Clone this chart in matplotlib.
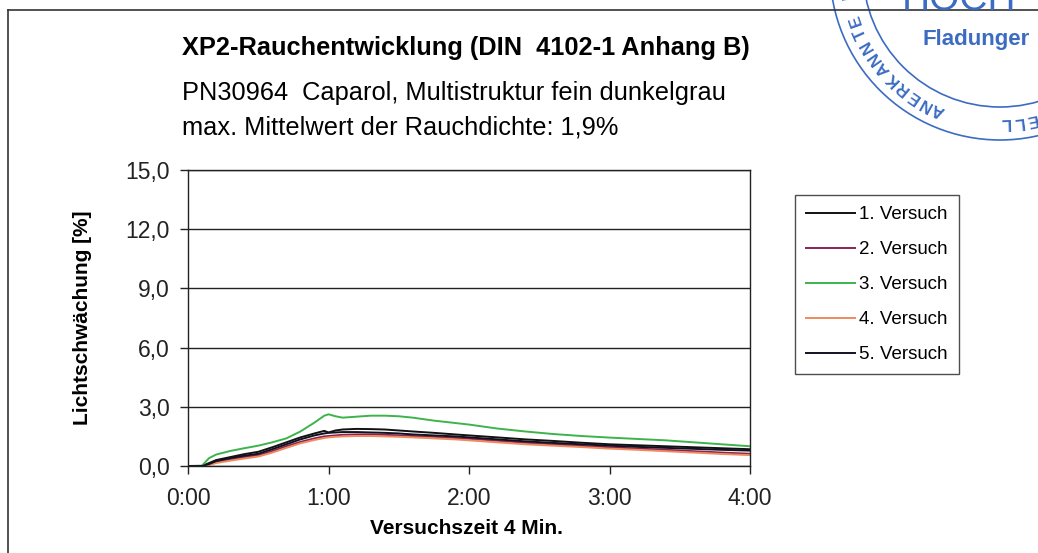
import numpy as np
import matplotlib.pyplot as plt
from matplotlib.lines import Line2D
from matplotlib.patches import Arc

plt.rcParams['font.family'] = ['Liberation Sans', 'DejaVu Sans']

# time in minutes
zeit = [0, 0.1, 0.15, 0.2, 0.3, 0.4, 0.5, 0.6, 0.7, 0.8, 0.9, 0.97, 1.0, 1.05,
        1.1, 1.2, 1.3, 1.4, 1.5, 1.6, 1.75, 1.9, 2.0, 2.2, 2.4, 2.6, 2.8, 3.0,
        3.2, 3.4, 3.6, 3.8, 4.0]

versuch1 = [0, 0, 0.15, 0.3, 0.45, 0.6, 0.72, 0.95, 1.2, 1.45, 1.65, 1.78, 1.7,
            1.8, 1.85, 1.88, 1.87, 1.85, 1.8, 1.75, 1.68, 1.6, 1.55, 1.45, 1.35,
            1.27, 1.18, 1.1, 1.05, 1.0, 0.95, 0.9, 0.85]
versuch2 = [0, 0, 0.08, 0.2, 0.33, 0.45, 0.55, 0.75, 1.0, 1.22, 1.4, 1.5, 1.52,
            1.55, 1.58, 1.6, 1.6, 1.58, 1.55, 1.52, 1.48, 1.42, 1.38, 1.28, 1.18,
            1.1, 1.02, 0.95, 0.88, 0.82, 0.75, 0.68, 0.62]
versuch3 = [0, 0.02, 0.4, 0.58, 0.76, 0.9, 1.03, 1.2, 1.4, 1.75, 2.2, 2.55, 2.62,
            2.52, 2.45, 2.5, 2.55, 2.55, 2.52, 2.45, 2.3, 2.18, 2.1, 1.9, 1.75,
            1.62, 1.52, 1.44, 1.37, 1.3, 1.2, 1.1, 1.0]
versuch4 = [0, 0, 0.05, 0.15, 0.27, 0.38, 0.48, 0.68, 0.92, 1.15, 1.32, 1.42, 1.45,
            1.48, 1.5, 1.52, 1.52, 1.5, 1.48, 1.45, 1.4, 1.35, 1.3, 1.2, 1.1,
            1.03, 0.96, 0.88, 0.82, 0.75, 0.68, 0.61, 0.55]
versuch5 = [0, 0, 0.1, 0.25, 0.4, 0.52, 0.62, 0.85, 1.1, 1.35, 1.55, 1.65, 1.68,
            1.7, 1.72, 1.72, 1.7, 1.68, 1.65, 1.6, 1.55, 1.5, 1.45, 1.35, 1.25,
            1.17, 1.1, 1.03, 0.97, 0.92, 0.87, 0.82, 0.78]

labels = ['1. Versuch', '2. Versuch', '3. Versuch', '4. Versuch', '5. Versuch']
colors = ['#111111', '#8b2252', '#3cb44b', '#ee8a5c', '#111122']
yticks = [0, 3, 6, 9, 12, 15]
xticks = [0, 1, 2, 3, 4]
xticklabels = ['0:00', '1:00', '2:00', '3:00', '4:00']

W, H = 1038, 553
fig = plt.figure(figsize=(W / 100, H / 100), dpi=100)


def fx(px):
    return px / W


def fy(py):
    return 1 - py / H


# outer chart frame (continues beyond the scan)
fig.add_artist(Line2D([fx(8), 1.0], [fy(10), fy(10)], color='#333333', lw=1.2))
fig.add_artist(Line2D([fx(8), fx(8)], [fy(10), 0.0], color='#333333', lw=1.2))

ax = fig.add_axes([fx(188), fy(466), fx(750) - fx(188), fy(170) - fy(466)])
for serie, lab, col in zip([versuch1, versuch2, versuch3, versuch4, versuch5],
                           labels, colors):
    ax.plot(zeit, serie, color=col, lw=1.4, label=lab)

ax.set_xlim(0, 4)
ax.set_ylim(0, 15)
ax.set_yticks(yticks)
ax.set_yticklabels([f'{v:.1f}'.replace('.', ',') for v in yticks])
ax.set_xticks(xticks)
ax.set_xticklabels(xticklabels)
ax.grid(axis='y', color='#222222', lw=1)
ax.tick_params(direction='out', length=6, width=1, colors='#222222')
ax.tick_params(axis='x', labelsize=16.5, pad=9)
ax.tick_params(axis='y', labelsize=16.5, pad=7)
for s in ax.spines.values():
    s.set_color('#222222')
    s.set_linewidth(1)

fig.text(fx(466), fy(528), 'Versuchszeit 4 Min.', fontsize=15, fontweight='bold',
         ha='center', va='center')
fig.text(fx(82), fy(318), 'Lichtschwächung [%]', fontsize=15, fontweight='bold',
         ha='center', va='center', rotation=90)

fig.text(fx(182), fy(48), 'XP2-Rauchentwicklung (DIN  4102-1 Anhang B)',
         fontsize=18.3, fontweight='bold', va='center', ha='left')
fig.text(fx(182), fy(93), 'PN30964  Caparol, Multistruktur fein dunkelgrau',
         fontsize=18.3, va='center', ha='left')
fig.text(fx(182), fy(127), 'max. Mittelwert der Rauchdichte: 1,9%',
         fontsize=18.3, va='center', ha='left')

leg = ax.legend(loc='upper left', bbox_to_anchor=(fx(795), fy(195)),
                bbox_transform=fig.transFigure, borderaxespad=0,
                fontsize=13.5, frameon=True, fancybox=False,
                handlelength=2.6, handletextpad=0.2, labelspacing=0.95,
                borderpad=0.6)
leg.get_frame().set_edgecolor('#222222')
leg.get_frame().set_linewidth(1)

# partial stamp in the upper right corner
blue = '#3b6cc2'
cx, cy = 1000, -30
for r in (170, 137):
    fig.add_artist(Arc((fx(cx), fy(cy)), 2 * r / W, 2 * r / H, angle=0,
                       theta1=180, theta2=360, color=blue, lw=1.2,
                       transform=fig.transFigure))
for i, ch in enumerate('ANERKANNTE P'):
    th = 114 + i * 5.2
    t = np.radians(th)
    px, py = cx + 153 * np.cos(t), cy + 153 * np.sin(t)
    fig.text(fx(px), fy(py), ch, color=blue, fontsize=12, fontweight='bold',
             rotation=-90 - th, ha='center', va='center', rotation_mode='anchor')
for i, ch in enumerate('ELL'):
    th = 78 + i * 5.0
    t = np.radians(th)
    px, py = cx + 153 * np.cos(t), cy + 153 * np.sin(t)
    fig.text(fx(px), fy(py), ch, color=blue, fontsize=12, fontweight='bold',
             rotation=-90 - th, ha='center', va='center', rotation_mode='anchor')
fig.text(fx(922), fy(40), 'Fladunger', color=blue, fontsize=16, fontweight='bold',
         ha='left', va='center')
fig.text(fx(902), fy(10), 'HOCH', color=blue, fontsize=28, ha='left',
         va='baseline')

fig.savefig('out.png', dpi=100)
